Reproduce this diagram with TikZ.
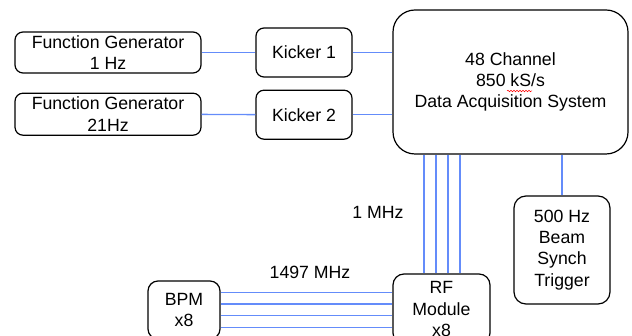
\documentclass[tikz,border=0pt]{standalone}
\usepackage{fontspec}
\setmainfont{Liberation Sans}
\usepackage{tikz}
\usetikzlibrary{positioning}
\usetikzlibrary{decorations.pathmorphing}
\definecolor{wire}{RGB}{100,140,250}

\begin{document}
\begin{tikzpicture}[x=1pt,y=-1pt,node distance=12pt,
  every node/.style={font=\fontsize{17.7}{21.3}\selectfont,align=center,inner sep=0pt},
  blk/.style={draw,line width=1.2pt,rounded corners=8pt},
  link/.style={wire,line width=1.4pt}]
  \useasboundingbox (0,0) rectangle (632,336);
  \clip (0,0) rectangle (632,336);

  \node[blk,minimum width=186pt,minimum height=41pt] (fgA) at (108,52.5) {Function Generator\\1 Hz};
  \node[blk,minimum width=186pt,minimum height=42pt,below=19pt of fgA] (fgB) {Function Generator\\21Hz};
  \node[blk,minimum width=96pt,minimum height=49pt] (kickA) at (304,52.5) {Kicker 1};
  \node[blk,minimum width=96pt,minimum height=49pt,below=of kickA] (kickB) {Kicker 2};
  \node[blk,rounded corners=22pt,minimum width=235pt,minimum height=144pt] (daq) at (510.5,82) {48 Channel\\850 kS/s\\Data Acquisition System};
  \node[blk,rounded corners=12pt,minimum width=96pt,minimum height=108pt] (trig) at (562,250) {500 Hz\\Beam\\Synch\\Trigger};
  \node[blk,rounded corners=11pt,minimum width=97pt,minimum height=70pt] (rf) at (441.5,309) {RF\\Module\\x8};
  \node[blk,rounded corners=10pt,minimum width=72pt,minimum height=58pt] (bpm) at (184,310) {BPM\\x8};

  \node (mhz) at (378,212) {1 MHz};
  \node (ghz) at (310,272) {1497 MHz};

  \draw[link](fgA)--(kickA);
  \draw[link](fgB)--(kickB);
  \draw[link](kickA.east)--(kickA.east -| daq.west);
  \draw[link](kickB.east)--(kickB.east -| daq.west);
  \draw[link](trig.north)--(trig.north |- daq.south);
  \foreach \dx in {-17.5,-5.5,6.5,18.5}
    \draw[link]([xshift=\dx pt]rf.north)--([xshift=\dx pt]rf.north |- daq.south);
  \foreach \dy in {17.5,5.8,-5.8,-17.5}
    \draw[link]([yshift=\dy pt]bpm.east)--([yshift=\dy pt]bpm.east -| rf.west);

  % spell check mark under kS
  \draw[red,line width=0.5pt,decorate,decoration={snake,amplitude=0.8pt,segment length=3pt}](507,91)--(532,91);
\end{tikzpicture}
\end{document}
